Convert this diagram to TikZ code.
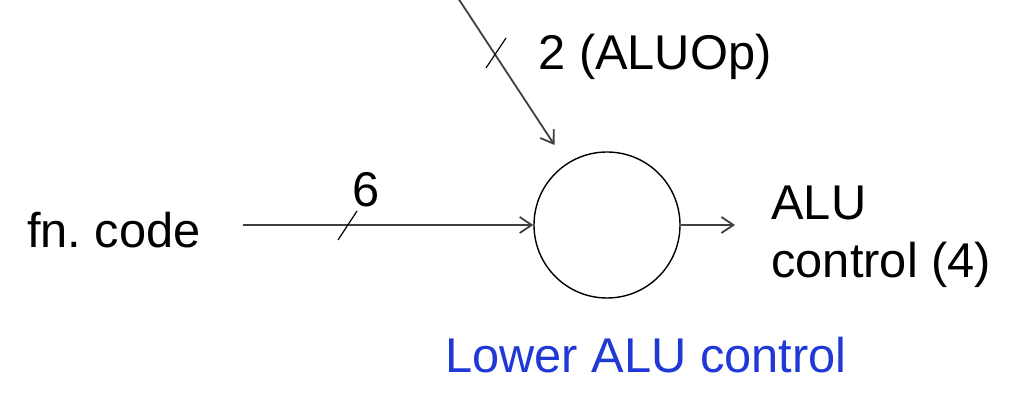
\documentclass[tikz,border=0pt]{standalone}
\usepackage{fontspec}
\setmainfont{Liberation Sans}
\usetikzlibrary{arrows.meta}
\definecolor{ctrlblue}{RGB}{32,56,214}

\begin{document}
\begin{tikzpicture}[
        x=0.5pt, y=-0.5pt,
        unit/.style={circle, draw, line width=0.7pt, minimum size=73pt, inner sep=0pt},
        wire/.style={line width=0.9pt, draw=black!75},
        arrow/.style={-{Straight Barb[length=6pt,width=8pt]}, wire},
        tick/.style={line width=0.6pt},
        every node/.style={font=\fontsize{24.4}{29}\selectfont}
        ]
        \useasboundingbox (0,0) rectangle (1012,400);
        \node[unit] (alu) at (607,225) {};
        \node (fn) at (114,230) {fn.\ code};
        \coordinate (fnin) at (243,225);
        \coordinate (opsrc) at (458,-2);
        \coordinate (out) at (735,225);
        \draw[arrow] (fnin) -- (alu);
        \draw[arrow, shorten >=11pt] (opsrc) -- (alu);
        \draw[arrow] (alu) -- (out);
        % bus width ticks
        \draw[tick] (338,240) -- (357,211);
        \draw[tick] (486,68) -- (506,38);
        \node (w6) at (366,190) {6};
        \node (wop) at (655,57) {2 (ALUOp)};
        \node[anchor=north west, align=left, inner sep=0pt] (res) at (771,186) {ALU\\control (4)};
        \node[text=ctrlblue] (name) at (646,355) {Lower ALU control};
    \end{tikzpicture}
\end{document}
